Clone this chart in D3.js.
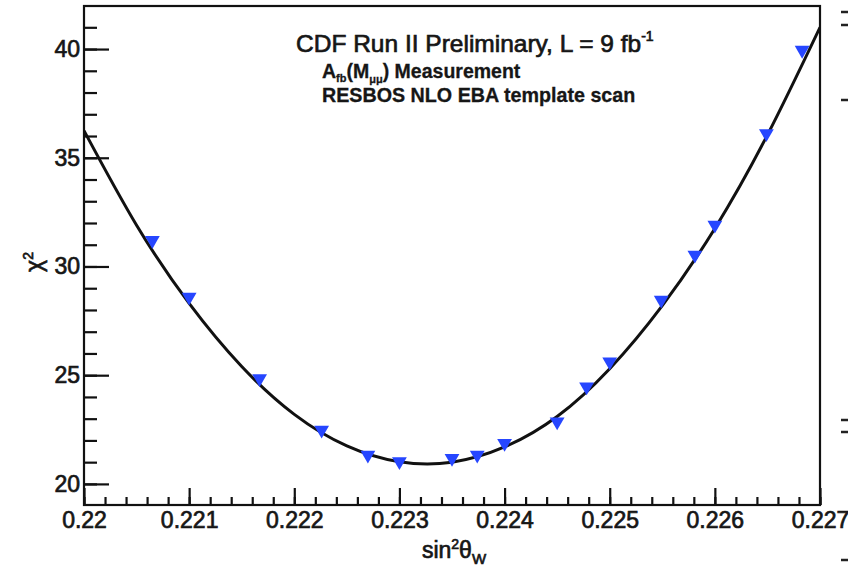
<!DOCTYPE html>
<html>
<head>
<meta charset="utf-8">
<script src="https://cdn.jsdelivr.net/npm/d3@7"></script>
<style>
  body { margin: 0; background: #fff; }
  text { font-family: "Liberation Sans", Arial, sans-serif; fill: #161616; stroke: #161616; stroke-width: 0.7px; }
</style>
</head>
<body>
<div id="chart"></div>
<script>
// scan points (triangles)
const scanX    = [0.22065, 0.2210, 0.22167, 0.22226, 0.2227, 0.2230, 0.2235, 0.22374, 0.2240,
                  0.2245, 0.22478, 0.2250, 0.22549, 0.22581, 0.2260, 0.22649, 0.22683];
const scanChi2 = [31.2, 28.6, 24.85, 22.48, 21.33, 21.03, 21.18, 21.33, 21.87,
                  22.86, 24.47, 25.62, 28.46, 30.53, 31.91, 36.12, 39.95];

// fitted curve, read every 0.0005
const fitX    = [0.2200, 0.2205, 0.2210, 0.2215, 0.2220, 0.2225, 0.2230, 0.2235,
                 0.2240, 0.2245, 0.2250, 0.2255, 0.2260, 0.2265, 0.2270];
const fitChi2 = [36.25, 31.9, 28.3, 25.4, 23.2, 21.75, 21.02, 21.0,
                 21.7, 23.1, 25.3, 28.2, 31.75, 36.05, 41.0];

// axis ticks
const xMajor = [0.220, 0.221, 0.222, 0.223, 0.224, 0.225, 0.226, 0.227];
const xLabels = ["0.22", "0.221", "0.222", "0.223", "0.224", "0.225", "0.226", "0.227"];
const yMajor = [20, 25, 30, 35, 40];
const yLabels = ["20", "25", "30", "35", "40"];

const W = 848, H = 567;
const margin = {top: 6, right: 28, bottom: 62, left: 84};

const svg = d3.select("#chart")
  .append("svg")
    .attr("width", W)
    .attr("height", H);

const x = d3.scaleLinear()
  .domain([0.22, 0.227])
  .range([margin.left, W - margin.right]);

const y = d3.scaleLinear()
  .domain([19.03, 41.98])
  .range([H - margin.bottom, margin.top]);

const plotBottom = H - margin.bottom;

// minor x ticks (5 divisions)
const xMinor = d3.range(0, 36).map(i => 0.22 + i * 0.0002).filter(v => v < 0.22701);
svg.append("g")
  .attr("transform", "translate(0," + plotBottom + ")")
  .call(d3.axisBottom(x).tickValues(xMinor).tickSize(-8).tickFormat(""))
  .call(g => g.select(".domain").remove());

// major x ticks + labels
const xAxis = svg.append("g")
  .attr("transform", "translate(0," + plotBottom + ")")
  .call(d3.axisBottom(x).tickValues(xMajor).tickSize(-17).tickPadding(6.5)
        .tickFormat((d, i) => xLabels[i]))
  .call(g => g.select(".domain").remove());
xAxis.selectAll("text").attr("font-size", 23).attr("font-family", null);

// minor y ticks
const yMinor = d3.range(20, 42, 1);
svg.append("g")
  .attr("transform", "translate(" + margin.left + ",0)")
  .call(d3.axisLeft(y).tickValues(yMinor).tickSize(-13).tickFormat(""))
  .call(g => g.select(".domain").remove());

// major y ticks + labels
const yAxis = svg.append("g")
  .attr("transform", "translate(" + margin.left + ",0)")
  .call(d3.axisLeft(y).tickValues(yMajor).tickSize(-25).tickPadding(4)
        .tickFormat((d, i) => yLabels[i]))
  .call(g => g.select(".domain").remove());
yAxis.selectAll("text").attr("font-size", 23).attr("font-family", null);

svg.selectAll(".tick line").attr("stroke", "#111").attr("stroke-width", 2.2);

// frame
svg.append("rect")
  .attr("x", x(0.22))
  .attr("y", y(41.98))
  .attr("width", x(0.227) - x(0.22))
  .attr("height", y(19.03) - y(41.98))
  .attr("fill", "none")
  .attr("stroke", "#111")
  .attr("stroke-width", 2.2);

svg.append("clipPath").attr("id", "plotclip")
  .append("rect")
    .attr("x", x(0.22))
    .attr("y", y(41.98))
    .attr("width", x(0.227) - x(0.22))
    .attr("height", y(19.03) - y(41.98));

// fit curve
const fitData = fitX.map((v, i) => ({x: v, y: fitChi2[i]}));
svg.append("path")
  .datum(fitData)
  .attr("clip-path", "url(#plotclip)")
  .attr("fill", "none")
  .attr("stroke", "#111")
  .attr("stroke-width", 3)
  .attr("d", d3.line().x(d => x(d.x)).y(d => y(d.y)).curve(d3.curveNatural));

// scan points
const scanData = scanX.map((v, i) => ({x: v, y: scanChi2[i]}));
svg.append("g")
  .selectAll("path")
  .data(scanData)
  .enter()
  .append("path")
    .attr("d", d3.symbol().type(d3.symbolTriangle).size(95))
    .attr("transform", d => "translate(" + x(d.x) + "," + y(d.y) + ") rotate(180)")
    .attr("fill", "#2646ff");

// header texts
const t1 = svg.append("text").attr("x", 296).attr("y", 52).attr("font-size", 24.5);
t1.append("tspan").text("CDF Run II Preliminary, L = 9 fb");
t1.append("tspan").attr("font-size", 14).attr("dy", -11).text("-1");

const t2 = svg.append("text").attr("x", 322).attr("y", 78)
  .attr("font-size", 19.5).attr("font-weight", "bold").style("stroke-width", "0.3px");
t2.append("tspan").text("A");
t2.append("tspan").attr("font-size", 11).attr("dy", 4).text("fb");
t2.append("tspan").attr("dy", -4).text("(M");
t2.append("tspan").attr("font-size", 11).attr("dy", 5).text("μμ");
t2.append("tspan").attr("dy", -5).text(") Measurement");

svg.append("text").attr("x", 322).attr("y", 102)
  .attr("font-size", 19.7).attr("font-weight", "bold").style("stroke-width", "0.3px")
  .text("RESBOS NLO EBA template scan");

// axis titles
const xt = svg.append("text").attr("x", 454).attr("y", 558)
  .attr("text-anchor", "middle").attr("font-size", 23);
xt.append("tspan").text("sin");
xt.append("tspan").attr("font-size", 14).attr("dy", -9).text("2");
xt.append("tspan").attr("dy", 9).text("θ");
xt.append("tspan").attr("font-size", 15).attr("dy", 6).text("W");

const yt = svg.append("text")
  .attr("transform", "translate(42,262) rotate(-90)")
  .attr("text-anchor", "middle").attr("font-size", 23);
yt.append("tspan").text("χ");
yt.append("tspan").attr("font-size", 14).attr("dy", -9).text("2");

// stray marks at the right page edge
const edgeMarks = [12, 25, 100, 420, 432, 560];
svg.append("g").selectAll("line")
  .data(edgeMarks)
  .enter()
  .append("line")
    .attr("x1", 841).attr("x2", 848)
    .attr("y1", d => d).attr("y2", d => d)
    .attr("stroke", "#222").attr("stroke-width", 2.5);
</script>
</body>
</html>
